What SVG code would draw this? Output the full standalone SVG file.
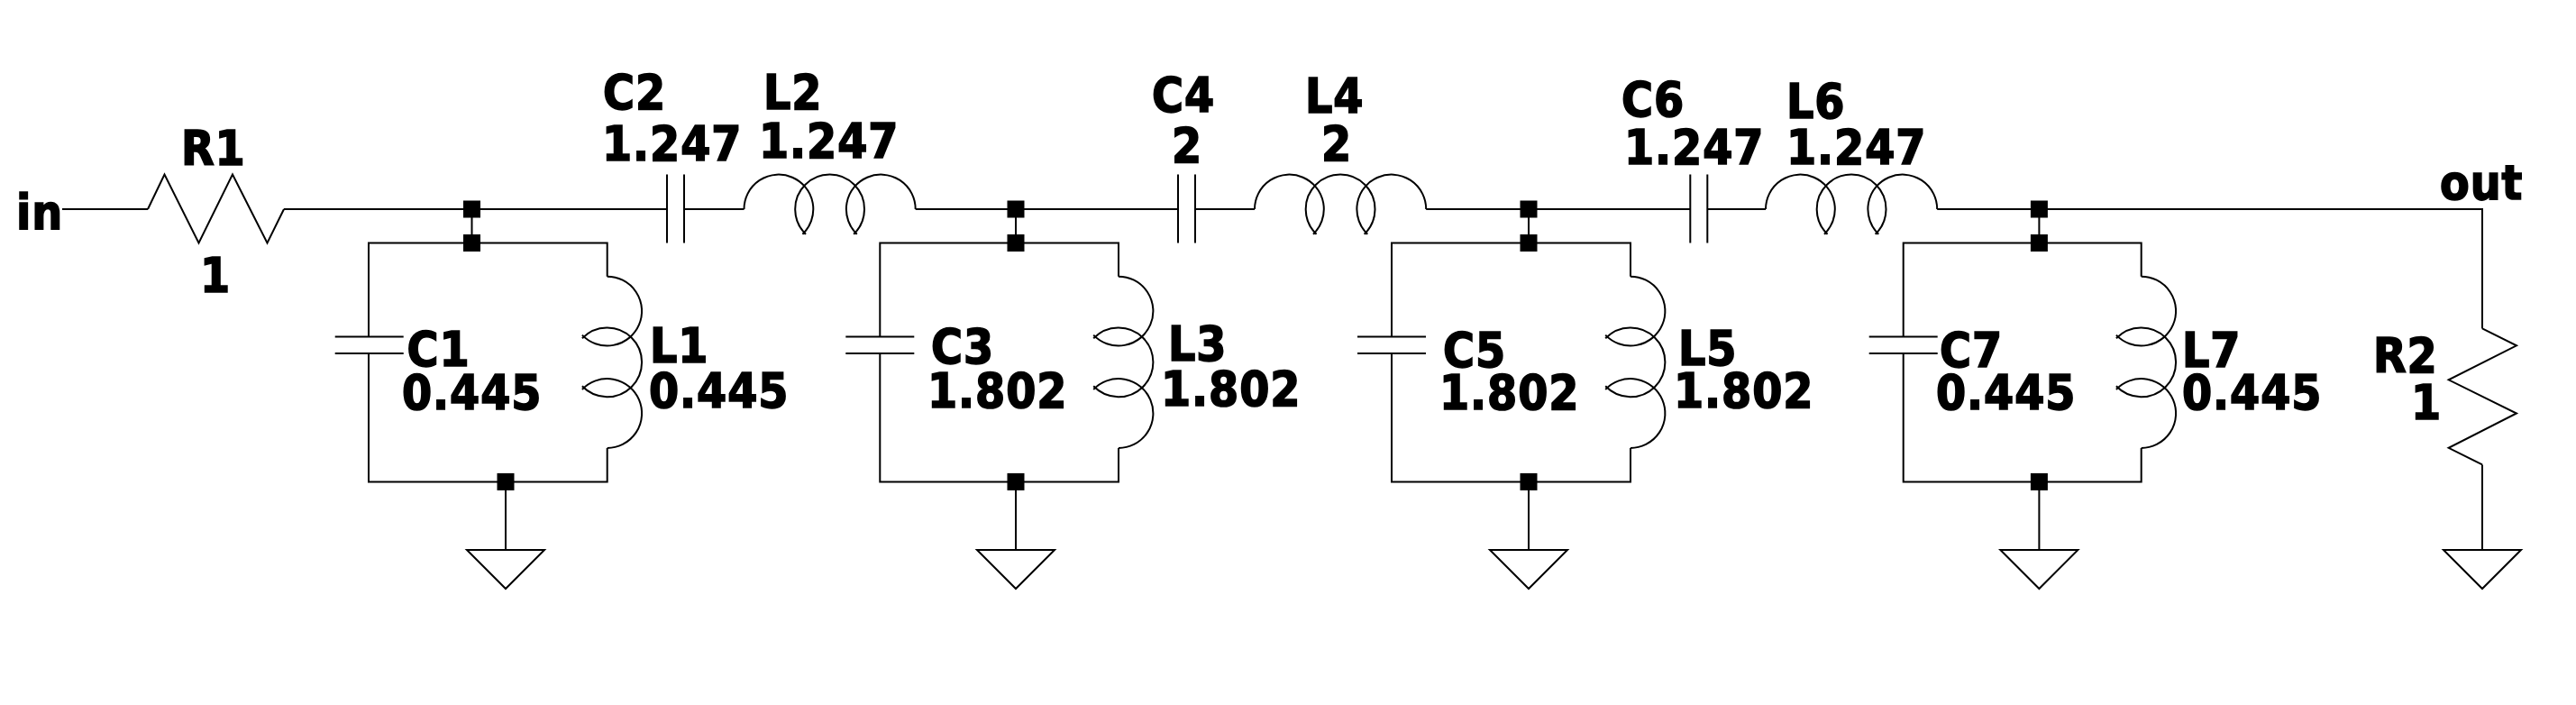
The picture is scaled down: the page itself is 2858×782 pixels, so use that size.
<svg xmlns="http://www.w3.org/2000/svg" width="2858" height="782" viewBox="0 0 2858 782">
<style>
.w{fill:none;stroke:#000;stroke-width:2;stroke-linejoin:miter}
.j{fill:#000;stroke:none}
text{font-family:"DejaVu Sans Condensed","DejaVu Sans",sans-serif;font-stretch:condensed;font-weight:700;font-size:53px;letter-spacing:.9px;fill:#000;stroke:#000;stroke-width:1.6}
</style>
<defs>
<path id="ind" class="w" d="M0 0A38.4 38.4 0 1 1 64.9 27.8M68.6 27.8A38.4 38.4 0 1 1 121.6 27.8M125.3 27.8A38.4 38.4 0 1 1 190.2 0"/>
<path id="capH" class="w" d="M0 0H76M0 18.5H76"/>
<path id="capV" class="w" d="M0 0V76M19 0V76"/>
<path id="gnd" class="w" d="M-43 0H43L0 43Z"/>
<rect id="dot" class="j" x="-9.5" y="-9.5" width="19" height="19"/>
</defs>
<rect width="2858" height="782" fill="#fff"/>
<g id="connectors">
<path class="w" d="M69 232H164M315 232H740M759 232H825.5M1015.7 232H1307M1326 232H1392M1582.2 232H1875.3M1894.3 232H1959M2149.2 232H2754V364.4M2754 515.4V610"/>
<path class="w" d="M523.5 232V269.5M1127 232V269.5M1696 232V269.5M2262.4 232V269.5"/>
<path class="w" d="M409 373.5V269.5H673.7V306.7M673.7 496.9V534.4H409V392M561 534.4V610"/>
<path class="w" d="M976.3 373.5V269.5H1241V306.7M1241 496.9V534.4H976.3V392M1127 534.4V610"/>
<path class="w" d="M1544 373.5V269.5H1809V306.7M1809 496.9V534.4H1544V392M1696 534.4V610"/>
<path class="w" d="M2111.7 373.5V269.5H2375.7V306.7M2375.7 496.9V534.4H2111.7V392M2262.4 534.4V610"/>
<use href="#dot" x="523.5" y="232"/><use href="#dot" x="523.5" y="269.5"/><use href="#dot" x="561" y="534.4"/>
<use href="#dot" x="1127" y="232"/><use href="#dot" x="1127" y="269.5"/><use href="#dot" x="1127" y="534.4"/>
<use href="#dot" x="1696" y="232"/><use href="#dot" x="1696" y="269.5"/><use href="#dot" x="1696" y="534.4"/>
<use href="#dot" x="2262.4" y="232"/><use href="#dot" x="2262.4" y="269.5"/><use href="#dot" x="2262.4" y="534.4"/>
</g>
<g id="port-in"><text x="18" y="253.5">in</text></g>
<g id="port-out"><text x="2707" y="221">out</text></g>
<g id="R1"><path class="w" d="M164 232L182.5 193.5L220.5 269.5L258 193.5L296.5 269.5L315 232"/><text x="201" y="182.5">R1</text><text x="222" y="323.5">1</text></g>
<g id="C1"><use href="#capH" x="371.7" y="373.5"/><text x="451.5" y="406">C1</text><text x="446" y="454">0.445</text></g>
<g id="L1"><use href="#ind" transform="translate(673.7 306.7) rotate(90)"/><text x="721" y="401.5">L1</text><text x="720" y="451.5">0.445</text></g>
<g id="C2"><use href="#capV" x="740" y="193.5"/><text x="669" y="121">C2</text><text x="668" y="177.5">1.247</text></g>
<g id="L2"><use href="#ind" x="825.5" y="232"/><text x="847" y="121">L2</text><text x="842" y="175">1.247</text></g>
<g id="C3"><use href="#capH" x="938.3" y="373.5"/><text x="1033" y="402.5">C3</text><text x="1029" y="451.5">1.802</text></g>
<g id="L3"><use href="#ind" transform="translate(1241 306.7) rotate(90)"/><text x="1296" y="399.5">L3</text><text x="1288" y="449.5">1.802</text></g>
<g id="C4"><use href="#capV" x="1307" y="193.5"/><text x="1278" y="123.5">C4</text><text x="1300" y="179.5">2</text></g>
<g id="L4"><use href="#ind" x="1392" y="232"/><text x="1448" y="125">L4</text><text x="1466" y="177.5">2</text></g>
<g id="C5"><use href="#capH" x="1506" y="373.5"/><text x="1601" y="406.5">C5</text><text x="1597" y="454">1.802</text></g>
<g id="L5"><use href="#ind" transform="translate(1809 306.7) rotate(90)"/><text x="1862" y="404.5">L5</text><text x="1857" y="451.5">1.802</text></g>
<g id="C6"><use href="#capV" x="1875.3" y="193.5"/><text x="1799" y="129">C6</text><text x="1802" y="182">1.247</text></g>
<g id="L6"><use href="#ind" x="1959" y="232"/><text x="1982" y="131">L6</text><text x="1982" y="182">1.247</text></g>
<g id="C7"><use href="#capH" x="2073.7" y="373.5"/><text x="2152" y="406.5">C7</text><text x="2148" y="454">0.445</text></g>
<g id="L7"><use href="#ind" transform="translate(2375.7 306.7) rotate(90)"/><text x="2421" y="406.5">L7</text><text x="2421" y="454">0.445</text></g>
<g id="R2"><path class="w" d="M2754 364.4L2792 383.3L2716.7 421.3L2792 458.5L2716.7 496.8L2754 515.4"/><text x="2633" y="413">R2</text><text x="2675" y="465">1</text></g>
<g id="gnd1"><use href="#gnd" x="561" y="610"/></g>
<g id="gnd2"><use href="#gnd" x="1127" y="610"/></g>
<g id="gnd3"><use href="#gnd" x="1696" y="610"/></g>
<g id="gnd4"><use href="#gnd" x="2262.4" y="610"/></g>
<g id="gnd5"><use href="#gnd" x="2754" y="610"/></g>
</svg>
